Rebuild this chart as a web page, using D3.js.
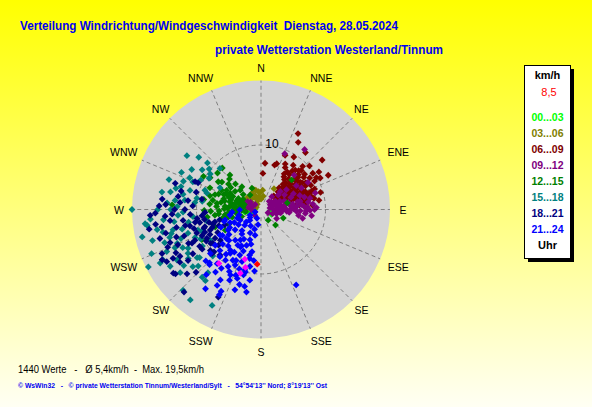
<!DOCTYPE html>
<html>
<head>
<meta charset="utf-8">
<script src="https://cdn.jsdelivr.net/npm/d3@7"></script>
<style>
  body { margin: 0; }
  svg { display: block; font-family: "Liberation Sans", Arial, sans-serif; }
  text { white-space: pre; }
</style>
</head>
<body>
<div id="chart"></div>
<script>
// chart texts
const titleText = 'Verteilung Windrichtung/Windgeschwindigkeit  Dienstag, 28.05.2024';
const subtitleText = 'private Wetterstation Westerland/Tinnum';
const statsText = '1440 Werte   -   Ø 5,4km/h  -  Max. 19,5km/h';
const footerText = '© WsWin32   -   © private Wetterstation Tinnum/Westerland/Sylt   -   54°54\'13\'\' Nord; 8°19\'13\'\' Ost';
const currentSpeed = '8,5';

// compass directions and speed rings (km/h)
const directions = ['N', 'NNE', 'NE', 'ENE', 'E', 'ESE', 'SE', 'SSE', 'S', 'SSW', 'SW', 'WSW', 'W', 'WNW', 'NW', 'NNW'];
const ringValues = [10];
const speedMax = 20;

// legend: three-hour groups
const hourGroups = ['00...03', '03...06', '06...09', '09...12', '12...15', '15...18', '18...21', '21...24'];

// wind samples per group, [direction in degrees, speed in km/h]
const pts0003 = [[267,1.7],[280,1.3],[259,2.1],[290,1.5],[300,1.0],[250,1.6],[270,2.4],[285,2.0],[100,1.4],[115,1.8],
  [275,0.9],[262,2.6],[295,2.3],[305,1.8]];

const pts0306 = [[337,2.4],[342,1.5],[306,1.7],[297,0.8],[357,2.6],[350,2.0],[330,2.9],[320,2.2],[345,3.1],[315,1.2],
  [0,1.6],[10,2.1],[325,1.0],[300,2.5],[335,1.9],[32,3.8],[352,2.8],[340,3.3],[310,2.8],[5,3.0]];

const pts0609 = [[57,6.2],[52,5.8],[60,6.5],[48,6.9],[55,7.4],[63,5.5],[45,5.2],[50,4.6],[58,4.9],[66,6.8],
  [70,7.2],[62,7.8],[42,6.4],[38,5.9],[47,7.9],[53,8.3],[35,7.1],[40,4.4],[44,3.8],[56,3.9],
  [61,4.3],[68,5.1],[72,6.1],[75,7.6],[78,8.4],[80,6.6],[73,4.8],[65,3.6],[54,5.3],[49,6.1],
  [59,7.0],[64,8.6],[57,9.0],[46,8.7],[41,8.1],[36,8.5],[33,6.6],[30,7.5],[28,8.0],[39,7.0],
  [51,3.2],[43,2.9],[58,2.7],[67,4.1],[71,5.6],[76,5.9],[82,7.1],[85,8.0],[69,8.9],[62,9.4],
  [55,9.8],[48,10.1],[26,13.1],[29,11.9],[38,11.2],[51,12.2],[57,10.7],[62,10.4],[63,11.7],[5,7.2],
  [3,5.6],[17,7.2],[19,7.5],[24,9.2],[32,9.6],[44,9.3],[74,9.6],[81,9.1],[87,6.9],[84,5.4],
  [77,4.6],[60,3.4],[50,5.5],[54,6.6],[59,5.9],[61,6.0],[66,6.2],[68,7.4],[71,7.9],[57,7.6],
  [52,7.1],[46,6.3],[43,5.6],[48,5.0],[55,4.5],[62,5.2],[67,5.7],[74,6.7],[79,7.3],[76,8.1],
  [70,8.4],[65,7.0],[59,8.1],[49,7.6],[44,8.4],[39,7.7],[35,6.2],[41,5.2],[53,4.1],[64,4.7],
  [72,5.3],[83,6.0],[45,4.6],[58,5.2],[69,6.4],[73,7.3],[51,8.7],[60,9.9]];

const pts0912 = [[63,1.6],[81,4.5],[91,7.6],[70,6.4],[292,1.8],[227,1.3],[75,2.4],[85,3.3],[88,5.2],[92,6.1],
  [95,6.9],[87,7.2],[78,5.8],[72,4.0],[66,3.2],[60,2.6],[55,2.0],[68,5.0],[74,7.0],[83,6.3],
  [89,3.9],[96,4.4],[100,3.1],[105,2.5],[110,1.9],[95,2.2],[80,1.4],[45,1.8],[40,2.6],[50,3.5],
  [58,4.3],[64,5.6],[77,7.8],[84,8.1],[90,8.3],[93,5.5],[99,5.9],[102,6.6],[86,4.8],[79,3.7],
  [71,3.0],[62,7.1],[56,6.6],[52,5.0],[47,4.1],[300,2.4],[285,2.8],[270,1.5],[250,1.0],[310,1.2],
  [115,1.2],[23,9.4],[36,11.5],[60,8.4],[44,7.4],[120,2.8],[97,7.9],[88,8.6],[73,8.8],[82,2.8],
  [295,2.9],[280,2.5],[305,2.0],[275,2.2],[290,1.4],[76,3.0],[82,3.6],[86,2.6],[91,3.4],[94,4.0],
  [90,4.6],[85,5.6],[80,5.0],[76,4.4],[70,3.8],[67,2.4],[73,1.9],[88,1.9],[98,2.9],[92,7.0],
  [86,6.7],[81,7.4],[78,6.2],[84,3.0],[89,5.0]];

const pts1215 = [[279,4.5],[281,7.6],[263,7.2],[323,2.8],[313,4.4],[318,7.2],[317,8.8],[302,9.3],[303,7.9],[288,7.5],
  [273,13.8],[243,10.3],[249,7.6],[137,3.3],[111,3.7],[146,2.0],[46,6.6],[337,3.6],[76,4.2],[275,3.8],
  [285,3.5],[290,4.0],[295,4.8],[270,4.2],[265,5.0],[275,5.6],[283,5.8],[292,6.2],[298,5.4],[305,4.9],
  [310,3.6],[300,3.2],[287,2.7],[268,3.0],[260,3.8],[255,4.6],[258,6.0],[268,6.5],[278,6.9],[290,7.0],
  [296,6.8],[285,8.2],[276,8.0],[268,7.8],[262,8.4],[280,9.0],[293,8.6],[308,6.4],[315,5.6],[320,4.6],
  [305,7.4],[272,5.2],[288,4.9],[262,2.4],[250,3.2],[245,5.5],[240,6.4],[300,10.3],[310,8.8],[273,3.2],
  [278,2.8],[282,4.2],[277,4.8],[271,5.7],[266,4.4],[286,6.0],[294,5.9],[280,6.3],[274,6.9],[262,5.6],
  [257,5.2],[283,3.0],[290,3.4],[296,3.9],[270,3.6],[284,5.0],[276,4.4],[291,5.3],[299,6.1],[264,6.6],
  [269,8.8],[306,5.8],[314,6.8]];

const pts1518 = [[306,14.2],[311,11.0],[308,10.2],[305,9.6],[315,9.0],[294,12.1],[286,12.9],[270,20.0],[263,18.1],[292,11.4],
  [254,17.5],[243,19.6],[243,17.1],[218,17.8],[207,16.7],[251,15.8],[246,16.0],[239,15.2],[232,15.9],[234,14.8],
  [233,12.4],[221,13.9],[218,14.0],[224,17.4],[289,9.2],[287,8.8],[280,10.1],[277,11.9],[272,13.0],[268,12.1],
  [276,10.3],[278,9.2],[274,14.6],[270,14.0],[265,17.2],[301,9.4],[281,12.3],[285,11.4],[281,14.3],[257,15.6],
  [253,14.8],[248,14.0],[244,13.5],[239,13.2],[230,13.8],[256,12.6],[252,11.9],[247,11.1],[257,14.0],[259,16.4],
  [257,18.9],[242,17.7],[238,16.6],[238,10.7],[250,9.8],[239,9.2],[226,10.4],[220,12.8],[304,11.0],[298,7.2],
  [262,13.6],[255,14.4],[250,13.2],[246,14.6],[242,12.8],[236,13.6],[232,12.1],[228,13.1],[260,11.4],[266,12.9],
  [264,15.2],[270,16.0],[276,13.4],[284,13.6],[290,12.8],[296,10.4],[280,15.6],[288,15.0],[295,13.6],[300,12.4],
  [310,12.6],[264,10.6],[258,8.6],[252,10.3],[244,10.4],[262,17.8],[248,18.3]];

const pts1821 = [[287,13.9],[293,11.1],[272,15.8],[267,17.2],[273,14.8],[267,13.8],[263,14.2],[260,15.6],[258,13.4],[262,12.2],
  [277,11.4],[273,10.6],[280,9.3],[293,10.6],[243,17.2],[234,16.8],[223,17.5],[206,15.1],[254,16.3],[250,15.0],
  [246,16.8],[241,15.6],[233,16.6],[241,16.7],[240,14.5],[245,12.4],[250,10.6],[253,9.1],[235,9.1],[228,10.2],
  [242,9.5],[239,11.1],[237,12.6],[248,8.5],[258,9.7],[233,7.9],[255,7.4],[267,8.7],[247,6.1],[266,11.0],
  [258,12.0],[245,11.3],[231,10.1],[222,9.5],[247,14.0],[266,14.9],[260,17.6],[250,8.0],[244,8.8],[240,9.8],
  [252,9.3],[256,8.3],[260,8.9],[262,10.0],[254,10.8],[246,10.0],[238,8.4],[242,7.6],[249,7.0],[256,6.6],
  [236,9.4],[230,8.6],[228,9.8],[251,12.6],[257,11.3],[244,11.9],[236,11.0],[264,9.2],[259,10.4],[248,9.4],
  [253,7.8],[283,12.7],[279,13.0],[285,10.4],[275,12.6],[270,11.8],[262,16.5],[256,15.2],[252,13.8],[248,15.6],
  [243,14.8],[237,15.0],[229,15.2],[226,14.0],[235,13.8],[270,13.4],[276,15.4],[268,16.4]];

const pts2124 = [[247,1.0],[243,1.9],[226,3.5],[243,3.6],[232,5.1],[214,5.7],[200,5.0],[193,4.1],[191,2.4],[260,4.9],
  [254,5.8],[217,7.9],[205,7.8],[194,7.3],[205,9.5],[215,9.6],[232,9.0],[238,7.5],[223,11.7],[195,9.7],
  [205,11.2],[196,12.1],[210,12.6],[189,11.1],[198,13.1],[190,13.0],[224,11.5],[220,13.2],[210,13.6],[216,12.0],
  [192,12.2],[206,14.7],[207,10.8],[195,10.5],[193,7.8],[192,6.7],[209,6.6],[215,8.3],[221,9.7],[215,15.0],
  [206,14.1],[155,12.9],[269,3.3],[265,4.5],[226,2.4],[205,1.5],[222,4.4],[230,3.0],[236,4.2],[218,4.8],
  [210,5.3],[205,4.0],[198,3.2],[212,3.0],[220,6.2],[226,6.9],[232,6.3],[240,5.6],[236,7.2],[228,8.0],
  [222,7.6],[208,6.4],[202,6.0],[196,5.6],[212,7.8],[200,8.6],[206,8.8],[218,8.8],[225,9.0],[210,10.2],
  [200,9.8],[214,11.0],[204,12.0],[199,11.3],[191,9.0],[188,8.0],[244,4.6],[250,3.9],[256,3.5],[247,5.2],
  [229,10.4],[234,2.1],[203,7.0],[213,6.6],[219,10.8],[227,11.7],[201,10.9],[194,10.0],[186,9.6],[209,9.0],
  [230,7.0],[238,6.0],[246,6.8],[252,6.0]];

// highlighted latest values and current reading
const lastValues = [[218,10.6],[198,8.1],[195,9.3],[198,10.4]];
const currentValue = [[184,8.5]];

const groupColors = ['#00ff00', '#808000', '#800000', '#800080', '#008000', '#008080', '#000080', '#0000ff'];
const groupPoints = [pts0003, pts0306, pts0609, pts0912, pts1215, pts1518, pts1821, pts2124];

const width = 592, height = 407;
const cx = 261, cy = 209.5, outerR = 129;

const svg = d3.select('#chart').append('svg')
  .attr('width', width)
  .attr('height', height);

// background gradient
const defs = svg.append('defs');
const grad = defs.append('linearGradient')
  .attr('id', 'bg')
  .attr('x1', 0).attr('y1', 0).attr('x2', 0).attr('y2', 1);
grad.append('stop').attr('offset', '0%').attr('stop-color', '#ffff00');
grad.append('stop').attr('offset', '100%').attr('stop-color', '#fffff4');
svg.append('rect')
  .attr('width', width)
  .attr('height', height)
  .attr('fill', 'url(#bg)');

// scales
const r = d3.scaleLinear().domain([0, speedMax]).range([0, outerR]);
const a = d3.scaleLinear().domain([0, 360]).range([0, 2 * Math.PI]);
const px = d => cx + r(d[1]) * Math.sin(a(d[0]));
const py = d => cy - r(d[1]) * Math.cos(a(d[0]));

const plot = svg.append('g');

plot.append('circle')
  .attr('cx', cx).attr('cy', cy)
  .attr('r', r(speedMax))
  .attr('fill', '#d4d4d4');

// dashed spokes
const dirAngles = directions.map((d, i) => i * 360 / directions.length);
plot.selectAll('.spoke')
  .data(dirAngles)
  .enter().append('line')
  .attr('class', 'spoke')
  .attr('x1', d => px([d, 1.2]))
  .attr('y1', d => py([d, 1.2]))
  .attr('x2', d => px([d, speedMax]))
  .attr('y2', d => py([d, speedMax]))
  .attr('stroke', '#808080')
  .attr('stroke-width', 1)
  .attr('stroke-dasharray', '4,3');

// dashed rings
plot.selectAll('.ring')
  .data(ringValues)
  .enter().append('circle')
  .attr('class', 'ring')
  .attr('cx', cx).attr('cy', cy)
  .attr('r', d => r(d))
  .attr('fill', 'none')
  .attr('stroke', '#808080')
  .attr('stroke-dasharray', '4,3');

plot.selectAll('.ringLabel')
  .data(ringValues)
  .enter().append('text')
  .attr('class', 'ringLabel')
  .attr('x', cx + 11)
  .attr('y', d => cy - r(d) + 3)
  .attr('text-anchor', 'middle')
  .attr('font-size', '12px')
  .text(d => d);

// compass labels, three-letter names pushed a little further out
plot.selectAll('.dirLabel')
  .data(directions)
  .enter().append('text')
  .attr('class', 'dirLabel')
  .attr('x', (d, i) => {
    const s = Math.sin(a(dirAngles[i]));
    const nudge = d.length === 3 ? Math.sign(s) * 6 : 0;
    return cx + 142 * s + nudge;
  })
  .attr('y', (d, i) => {
    const c = Math.cos(a(dirAngles[i]));
    const nudge = (d.length === 3 && Math.abs(c) < 0.5) ? -Math.sign(c) * 3 : 0;
    return cy - 142 * c + 4 + nudge;
  })
  .attr('text-anchor', 'middle')
  .attr('font-size', '10.5px')
  .text(d => d);

// the samples, earliest group first
const diamond = 'M0,-3.4L3.4,0L0,3.4L-3.4,0Z';
groupPoints.forEach((pts, i) => {
  plot.append('g')
    .selectAll('path')
    .data(pts)
    .enter().append('path')
    .attr('d', diamond)
    .attr('transform', d => `translate(${px(d)},${py(d)})`)
    .attr('fill', groupColors[i]);
});
plot.append('g')
  .selectAll('path')
  .data(lastValues)
  .enter().append('path')
  .attr('d', diamond)
  .attr('transform', d => `translate(${px(d)},${py(d)})`)
  .attr('fill', '#ff00ff');
plot.append('g')
  .selectAll('path')
  .data(currentValue)
  .enter().append('path')
  .attr('d', diamond)
  .attr('transform', d => `translate(${px(d)},${py(d)})`)
  .attr('fill', '#ff0000');

// titles
svg.append('text')
  .attr('x', 20).attr('y', 30)
  .attr('font-size', '13px')
  .attr('font-weight', 'bold')
  .attr('fill', '#0000f0')
  .attr('textLength', 378)
  .attr('lengthAdjust', 'spacingAndGlyphs')
  .text(titleText);
svg.append('text')
  .attr('x', 215).attr('y', 54)
  .attr('font-size', '13px')
  .attr('font-weight', 'bold')
  .attr('fill', '#0000f0')
  .attr('textLength', 228)
  .attr('lengthAdjust', 'spacingAndGlyphs')
  .text(subtitleText);

// legend box
const lg = svg.append('g');
lg.append('rect')
  .attr('x', 528).attr('y', 69)
  .attr('width', 46).attr('height', 193)
  .attr('fill', '#000');
lg.append('rect')
  .attr('x', 524.5).attr('y', 65.5)
  .attr('width', 46).attr('height', 193)
  .attr('fill', '#fff')
  .attr('stroke', '#000');
lg.append('text')
  .attr('x', 547.5).attr('y', 79)
  .attr('text-anchor', 'middle')
  .attr('font-size', '11px')
  .attr('font-weight', 'bold')
  .text('km/h');
lg.append('text')
  .attr('x', 549).attr('y', 96)
  .attr('text-anchor', 'middle')
  .attr('font-size', '11px')
  .attr('fill', '#ff0000')
  .text(currentSpeed);
lg.selectAll('.grp')
  .data(hourGroups)
  .enter().append('text')
  .attr('class', 'grp')
  .attr('x', 547.5)
  .attr('y', (d, i) => 121 + i * 16)
  .attr('text-anchor', 'middle')
  .attr('font-size', '10.5px')
  .attr('font-weight', 'bold')
  .attr('fill', (d, i) => groupColors[i])
  .text(d => d);
lg.append('text')
  .attr('x', 547.5).attr('y', 249)
  .attr('text-anchor', 'middle')
  .attr('font-size', '11px')
  .attr('font-weight', 'bold')
  .text('Uhr');

// bottom texts
svg.append('text')
  .attr('x', 18).attr('y', 373)
  .attr('font-size', '11.5px')
  .attr('textLength', 186)
  .attr('lengthAdjust', 'spacingAndGlyphs')
  .text(statsText);
svg.append('text')
  .attr('x', 18).attr('y', 388)
  .attr('font-size', '8px')
  .attr('font-weight', 'bold')
  .attr('fill', '#0000f0')
  .attr('textLength', 309)
  .attr('lengthAdjust', 'spacingAndGlyphs')
  .text(footerText);
</script>
</body>
</html>
